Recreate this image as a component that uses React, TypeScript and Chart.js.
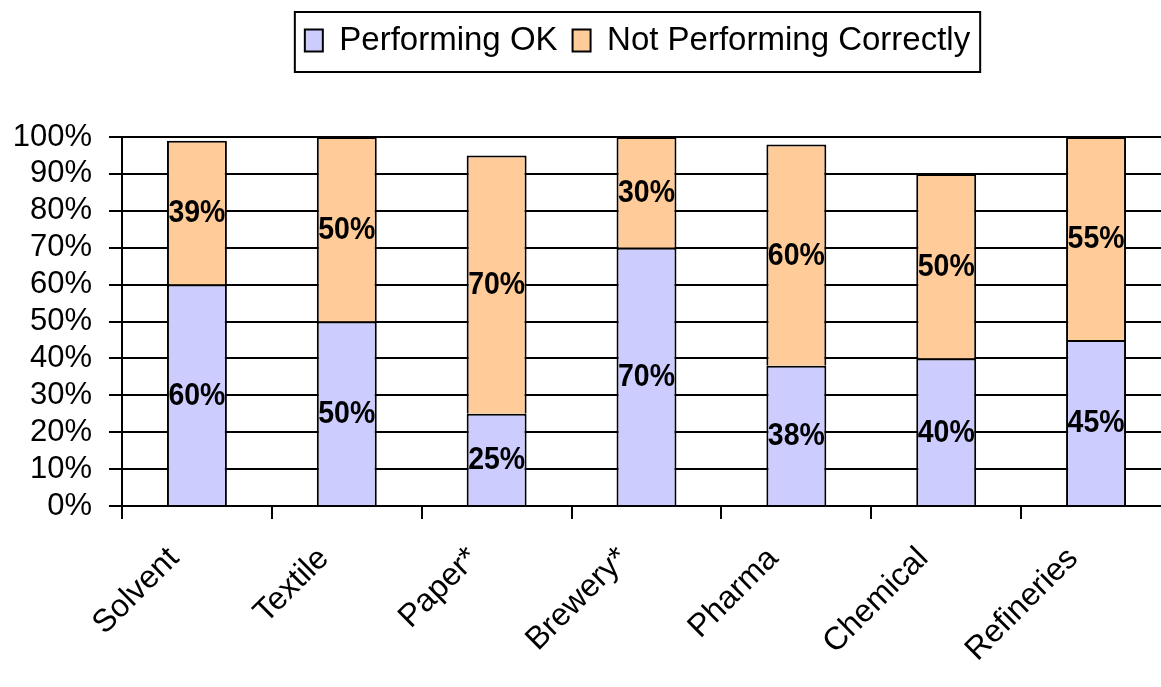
import React, { useEffect, useRef } from 'react';
import { Chart, registerables } from 'chart.js';

Chart.register(...registerables);

const categories = ['Solvent', 'Textile', 'Paper*', 'Brewery*', 'Pharma', 'Chemical', 'Refineries'];
const performingOK = [60, 50, 25, 70, 38, 40, 45];
const notPerforming = [39, 50, 70, 30, 60, 50, 55];
const seriesLabels = ['Performing OK', 'Not Performing Correctly'];
const seriesColors = ['#CCCCFF', '#FFCC99'];
const yMax = 100;
const yStep = 10;

const FONT = '"Liberation Sans", Arial, Helvetica, sans-serif';

const dataLabelPlugin = {
  id: 'dataLabels',
  afterDatasetsDraw(chart: any) {
    const ctx = chart.ctx;
    ctx.save();
    ctx.fillStyle = '#000';
    ctx.font = `bold 32px ${FONT}`;
    ctx.textAlign = 'center';
    ctx.textBaseline = 'middle';
    chart.data.datasets.forEach((ds: any, di: number) => {
      const meta = chart.getDatasetMeta(di);
      meta.data.forEach((el: any, i: number) => {
        const v = ds.data[i];
        const cx = el.x;
        const cy = (el.y + el.base) / 2;
        ctx.save();
        ctx.translate(cx, cy + 1);
        ctx.scale(0.89, 1);
        ctx.fillText(`${v}%`, 0, 0);
        ctx.restore();
      });
    });
    ctx.restore();
  },
};

const legendShiftPlugin = {
  id: 'legendShift',
  afterLayout(chart: any) {
    const lg = chart.legend;
    if (!lg) return;
    lg.left -= 9;
    lg.right -= 9;
  },
};

const legendBorderPlugin = {
  id: 'legendBorder',
  afterDraw(chart: any) {
    const lg = chart.legend;
    if (!lg || !lg.legendHitBoxes || !lg.legendHitBoxes.length) return;
    const boxes = lg.legendHitBoxes;
    const left = Math.min(...boxes.map((b: any) => b.left)) - 10;
    const right = Math.max(...boxes.map((b: any) => b.left + b.width)) + 10;
    const top = Math.min(...boxes.map((b: any) => b.top)) - 12;
    const bottom = Math.max(...boxes.map((b: any) => b.top + b.height)) + 15;
    const ctx = chart.ctx;
    ctx.save();
    ctx.strokeStyle = '#000';
    ctx.lineWidth = 2;
    ctx.strokeRect(left, top, right - left, bottom - top);
    ctx.restore();
  },
};

export default function App() {
  const ref = useRef<HTMLCanvasElement>(null);
  useEffect(() => {
    if (!ref.current) return;
    const chart = new Chart(ref.current, {
      type: 'bar',
      data: {
        labels: categories,
        datasets: [
          {
            label: seriesLabels[0],
            data: performingOK,
            backgroundColor: seriesColors[0],
            borderColor: '#000',
            borderWidth: 2,
            categoryPercentage: 1,
            barPercentage: 0.4,
          },
          {
            label: seriesLabels[1],
            data: notPerforming,
            backgroundColor: seriesColors[1],
            borderColor: '#000',
            borderWidth: 2,
            categoryPercentage: 1,
            barPercentage: 0.4,
          },
        ],
      },
      options: {
        responsive: false,
        animation: false,
        devicePixelRatio: 1,
        layout: { padding: { top: 9, left: 0, right: 0, bottom: 0 } },
        plugins: {
          tooltip: { enabled: false },
          legend: {
            position: 'top',
            fullSize: false,
            weight: 3000,
            labels: {
              color: '#000',
              font: { size: 33, family: FONT },
              boxWidth: 18,
              boxHeight: 22,
              padding: 15,
            },
          },
          title: {
            display: true,
            text: '',
            position: 'top',
            fullSize: false,
            weight: 500,
            font: { size: 12, lineHeight: 1 },
            padding: { top: 0, bottom: 58 },
          },
        },
        scales: {
          x: {
            stacked: true,
            offset: true,
            grid: {
              offset: true,
              drawOnChartArea: false,
              drawTicks: true,
              tickLength: 13,
              color: '#000',
              lineWidth: 2,
            },
            border: { display: true, color: '#000', width: 2 },
            ticks: {
              color: '#000',
              font: { size: 32, family: FONT },
              maxRotation: 45,
              minRotation: 45,
              padding: 21,
              labelOffset: -23,
              autoSkip: false,
            },
            afterFit(scale: any) {
              scale.height = 181;
            },
          },
          y: {
            stacked: true,
            min: 0,
            max: yMax,
            grid: {
              color: '#000',
              lineWidth: 2,
              drawTicks: true,
              tickLength: 13,
            },
            border: { display: true, color: '#000', width: 2 },
            ticks: {
              stepSize: yStep,
              autoSkip: false,
              color: '#000',
              font: { size: 31, family: FONT, lineHeight: 1 },
              padding: 17,
              callback: (v: any) => `${v}%`,
            },
            afterFit(scale: any) {
              scale.width = 122;
            },
          },
        },
      },
      plugins: [dataLabelPlugin, legendShiftPlugin, legendBorderPlugin],
    });
    return () => chart.destroy();
  }, []);
  return (
    <div
      style={{
        position: 'fixed',
        left: 0,
        top: 0,
        width: 1161,
        height: 687,
        overflow: 'hidden',
        background: '#fff',
      }}
    >
      <canvas ref={ref} width={1171} height={687} style={{ display: 'block' }} />
    </div>
  );
}
